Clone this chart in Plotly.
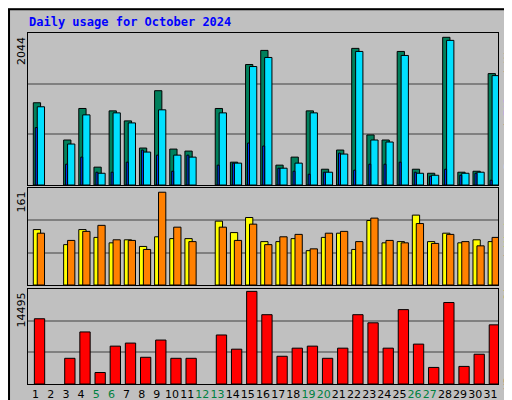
import plotly.graph_objects as go

days = list(range(1, 32))
weekend = [5, 6, 12, 13, 19, 20, 26, 27]

hits = [1106, 0, 605, 1029, 240, 997, 862, 497, 1268, 483, 456, 0, 1029, 307, 1620, 1810,
        267, 375, 997, 212, 470, 1837, 673, 605, 1796, 212, 158, 1986, 172, 185, 1498]
files = [1052, 0, 551, 943, 158, 970, 835, 443, 1011, 402, 375, 0, 970, 294, 1593, 1715,
         226, 294, 970, 172, 416, 1796, 605, 578, 1742, 158, 131, 1945, 158, 172, 1471]
pages = [772, 0, 280, 375, 172, 172, 307, 470, 402, 185, 402, 0, 267, 294, 564, 524,
         226, 185, 145, 172, 429, 199, 280, 280, 307, 172, 118, 212, 131, 158, 64]
visits = [92, 0, 67, 92, 79, 70, 75, 64, 80, 77, 77, 0, 106, 87, 112, 72,
          72, 77, 57, 79, 86, 59, 107, 70, 72, 116, 72, 86, 70, 75, 72]
sites = [86, 0, 74, 89, 99, 75, 74, 59, 154, 96, 72, 0, 96, 74, 101, 67,
         80, 84, 60, 86, 89, 72, 111, 74, 70, 102, 69, 84, 72, 65, 79]
kbytes = [9956, 0, 3920, 7944, 1754, 5778, 6242, 4075, 6706, 3920, 3920, 0, 7480, 5313, 14134, 10575,
          4230, 5468, 5778, 3920, 5468, 10575, 9337, 5468, 11349, 6087, 2528, 12432, 2682, 4540, 9027]

max_top, max_mid, max_bot = 2044, 161, 14495

fig = go.Figure()

def bars(y, color, offset, width, axis):
    # days without traffic get no bar at all
    y = [v if v > 0 else None for v in y]
    fig.add_trace(go.Bar(x=days, y=y, marker_color=color, offset=offset, width=width,
                         marker_line_color="black", marker_line_width=1,
                         xaxis="x" if axis == "y" else "x" + axis[1:], yaxis=axis,
                         showlegend=False))

bars(hits, "#00805C", -0.15, 0.48, "y")
bars(files, "#00E0FF", 0.11, 0.48, "y")
bars(pages, "#0040FF", -0.02, 0.13, "y")
bars(visits, "#FFFF00", -0.15, 0.48, "y2")
bars(sites, "#FF8000", 0.11, 0.48, "y2")
bars(kbytes, "#FF0000", -0.08, 0.68, "y3")

ticktext = ['<span style="color:#008040">%d</span>' % d if d in weekend else str(d) for d in days]

xdom = [20 / 512, 490 / 512]
common_x = dict(range=[0.5, 31.5], domain=xdom, showgrid=False, zeroline=False, automargin=False,
                showline=True, linecolor="black", mirror=True, ticks="")
fig.update_layout(
    width=512, height=400, margin=dict(l=0, r=0, t=0, b=0),
    paper_bgcolor="#C0C0C0", plot_bgcolor="#C0C0C0", barmode="overlay",
    font=dict(family="DejaVu Sans", size=11, color="black"),
    xaxis=dict(common_x, anchor="y", showticklabels=False),
    xaxis2=dict(common_x, anchor="y2", showticklabels=False),
    xaxis3=dict(common_x, anchor="y3", tickvals=days, ticktext=ticktext, tickangle=0,
                tickfont=dict(size=11)),
)
for name, mx, dom in [("yaxis", max_top, [1 - 177 / 400, 1 - 25 / 400]),
                      ("yaxis2", max_mid, [1 - 277 / 400, 1 - 180 / 400]),
                      ("yaxis3", max_bot, [1 - 376 / 400, 1 - 281 / 400])]:
    anchor = {"yaxis": "x", "yaxis2": "x2", "yaxis3": "x3"}[name]
    fig.layout[name] = dict(domain=dom, range=[0, mx], anchor=anchor, tickvals=[mx / 3, 2 * mx / 3],
                            showticklabels=False, gridcolor="#808080", gridwidth=1.5, automargin=False,
                            zeroline=False, showline=True, linecolor="black", mirror=True, ticks="")

fig.add_annotation(x=19 / 512, y=1 - 14 / 400, xref="paper", yref="paper", xanchor="left",
                   yanchor="middle", showarrow=False, text="<b>Daily usage for October 2024</b>",
                   font=dict(family="DejaVu Sans Mono", size=12, color="#0000FF"))

for txt, ytop in [(str(max_top), 27), (str(max_mid), 182), (str(max_bot), 283)]:
    fig.add_annotation(x=13 / 512, y=1 - ytop / 400, xref="paper", yref="paper", textangle=-90,
                       xanchor="center", yanchor="top", showarrow=False, text=txt,
                       font=dict(size=11))

right = [('<span style="color:#00E0FF">Pages</span> / <span style="color:#0040FF">Files</span>'
          ' / <span style="color:#00805C">Hits</span>', 27),
         ('<span style="color:#FF8000">Sites</span> / <span style="color:#FFFF00">Visits</span>', 198),
         ('<span style="color:#FF0000">KBytes</span>', 340)]
for txt, ytop in right:
    fig.add_annotation(x=500 / 512, y=1 - ytop / 400, xref="paper", yref="paper", textangle=-90,
                       xanchor="center", yanchor="top", showarrow=False, text=txt,
                       font=dict(family="DejaVu Sans Mono", size=11))

fig.add_shape(type="rect", xref="paper", yref="paper", x0=0.002, y0=0.003, x1=0.998, y1=0.997,
              line=dict(color="black", width=2))
fig.add_shape(type="line", xref="paper", yref="paper", x0=508 / 512, y0=0.01, x1=508 / 512, y1=0.99,
              line=dict(color="#808080", width=3))
fig.add_shape(type="line", xref="paper", yref="paper", x0=0.01, y0=4 / 400, x1=0.99, y1=4 / 400,
              line=dict(color="#808080", width=3))

fig.write_html("out.html")
